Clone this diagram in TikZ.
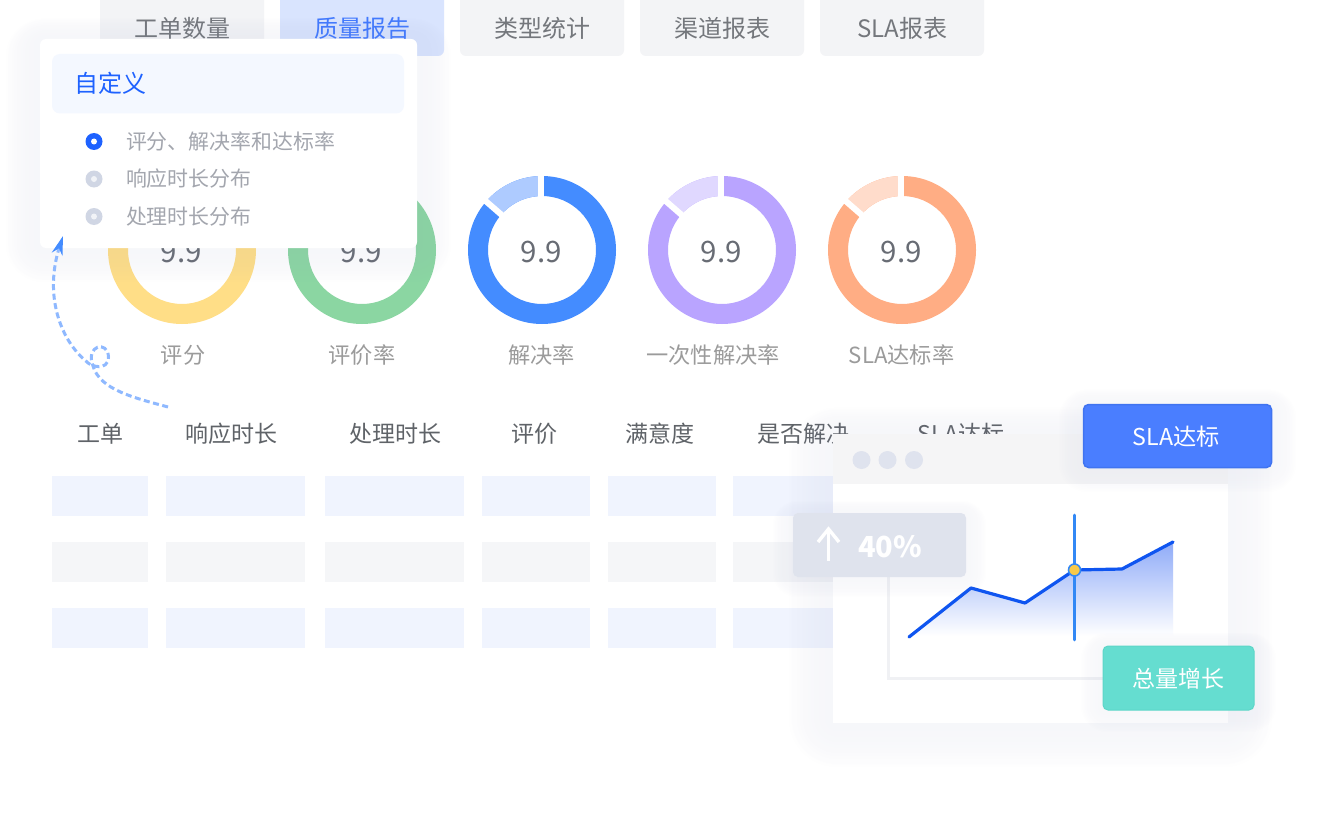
\documentclass[tikz,border=0pt]{standalone}
\usepackage{fontspec}
\setmainfont{Noto Sans CJK SC}
\usetikzlibrary{arrows.meta,calc}
\definecolor{tabgray}{HTML}{F3F4F6}
\definecolor{tabblue}{HTML}{D9E4FE}
\definecolor{tabtext}{HTML}{74777C}
\definecolor{tabactive}{HTML}{4179FF}
\definecolor{blueacc}{HTML}{1E62FF}
\definecolor{paneltint}{HTML}{F4F8FF}
\definecolor{optgray}{HTML}{A3A6AE}
\definecolor{radiogray}{HTML}{D0D6E4}
\definecolor{labelgray}{HTML}{9B9B9B}
\definecolor{valgray}{HTML}{686C74}
\definecolor{headgray}{HTML}{5F6368}
\definecolor{rowblue}{HTML}{F0F4FE}
\definecolor{rowgray}{HTML}{F5F6F8}
\definecolor{winhead}{HTML}{F5F5F6}
\definecolor{windot}{HTML}{DFE3EE}
\definecolor{axisgray}{HTML}{F0F1F4}
\definecolor{shadowtint}{HTML}{808AB8}
\definecolor{slablue}{HTML}{4A7EFF}
\definecolor{slaedge}{HTML}{4074F0}
\definecolor{tealbox}{HTML}{65DDD0}
\definecolor{tealedge}{HTML}{5CD6C8}
\definecolor{upbox}{HTML}{DFE3ED}
\definecolor{lineblue}{HTML}{0F55F0}
\definecolor{crossblue}{HTML}{3288F5}
\definecolor{dotyellow}{HTML}{F8C948}
\definecolor{areablue}{HTML}{8FABF8}
\definecolor{dashblue}{HTML}{8FB9FF}
\definecolor{tipblue}{HTML}{448CFF}
\definecolor{ringY}{HTML}{FFDE87}
\definecolor{ringG}{HTML}{8BD6A2}
\definecolor{ringB}{HTML}{448CFF}
\definecolor{ringP}{HTML}{B9A4FF}
\definecolor{ringO}{HTML}{FFAD84}
\definecolor{softY}{HTML}{FFEFC4}
\definecolor{softG}{HTML}{C5EBD1}
\definecolor{softB}{HTML}{AECBFF}
\definecolor{softP}{HTML}{E0D8FF}
\definecolor{softO}{HTML}{FFDCCB}
\newcommand{\fsz}[1]{\fontsize{#1}{#1}\selectfont}
% x1 y1 x2 y2 spread opacity: layers inside one group, so only one faint composite
\newcommand{\softshadow}[6]{%
  \begin{scope}[transparency group,opacity=#6]
  \foreach \i in {1,...,16}{%
    \pgfmathsetmacro{\spr}{\i/16*#5}%
    \pgfmathsetmacro{\sprtop}{\spr*0.6}%
    \fill[shadowtint,opacity=0.12,rounded corners={(\spr+4)*1pt}]
      ({#1-\spr},{-(#2)+\sprtop}) rectangle ({#3+\spr},{-(#4)-\spr});
  }
  \end{scope}}
\tikzset{
  txt/.style={inner sep=0pt,outer sep=0pt,anchor=center},
  tabtxt/.style={txt,text=tabtext,font=\fsz{24}},
  colhead/.style={txt,text=headgray,font=\fsz{23}},
  ringlabel/.style={txt,text=labelgray,font=\fsz{22.2}},
  ringvalue/.style={txt,text=valgray,font=\fsz{29.5}},
  opt/.style={txt,anchor=west,text=optgray,font=\fsz{20.9}},
  flow/.style={dashblue,line width=3pt,dash pattern=on 6pt off 3.5pt},
}
\begin{document}
\begin{tikzpicture}[x=1pt,y=1pt]
\fill[white] (0,0) rectangle (1330,-832);
\useasboundingbox (0,0) rectangle (1330,-832);
\clip (0,0) rectangle (1330,-832);
% tabs
\foreach \a/\col/\tc/\lab/\nm in {100/tabgray/tabtext/工单数量/tabA,280/tabblue/tabactive/质量报告/tabB,460/tabgray/tabtext/类型统计/tabC,640/tabgray/tabtext/渠道报表/tabD,820/tabgray/tabtext/SLA报表/tabE}{
  \fill[\col,rounded corners=6pt] (\a,10) rectangle ({\a+164},-56);
  \node[tabtxt,text=\tc] (\nm) at ({\a+82},-28) {\lab};
}
% rings
\foreach \cx/\dark/\light/\nm in {182/ringY/softY/rA,362/ringG/softG/rB,542/ringB/softB/rC,722/ringP/softP/rD,902/ringO/softO/rE}{
  \fill[\dark,even odd rule] (\cx,-250) circle[radius=74] (\cx,-250) circle[radius=54];
  \fill[\light] ({\cx+74*cos(90)},{-250+74*sin(90)}) arc[start angle=90,end angle=139,radius=74]
     -- ({\cx+54*cos(139)},{-250+54*sin(139)}) arc[start angle=139,end angle=90,radius=54] -- cycle;
  \draw[white,line width=6.2pt] ({\cx-1.2},-240) -- ({\cx-1.2},-172);
  \draw[white,line width=6pt] ({\cx+50*cos(139)},{-250+50*sin(139)}) -- ({\cx+78*cos(139)},{-250+78*sin(139)});
  \node[ringvalue] (\nm val) at ({\cx-0.7},-252) {9.9};
}
\node[ringlabel] (lA) at (183,-355) {评分};
\node[ringlabel] (lB) at (362,-355) {评价率};
\node[ringlabel] (lC) at (541.5,-355) {解决率};
\node[ringlabel] (lD) at (713,-355) {一次性解决率};
\node[ringlabel] (lE) at (901.5,-355) {SLA达标率};
% table
\node[colhead] (hA) at (100,-434) {工单};
\node[colhead] (hB) at (231,-434) {响应时长};
\node[colhead] (hC) at (395,-434) {处理时长};
\node[colhead] (hD) at (534,-434) {评价};
\node[colhead] (hE) at (660,-434) {满意度};
\node[colhead] (hF) at (803,-434) {是否解决};
\node[colhead] (hG) at (961,-434) {SLA达标};
\foreach \t/\col in {476/rowblue,542/rowgray,608/rowblue}{
  \foreach \l/\r in {52/147.5,166/305,325/464,482/590,608/715.5,733/840}{
    \fill[\col] (\l,-\t) rectangle (\r,{-\t-40});
  }
}
% popup
\softshadow{40}{39}{417}{248}{34}{0.08}
\fill[white,rounded corners=6pt] (40,-39) rectangle (417,-248);
\fill[paneltint,rounded corners=8pt] (52,-54) rectangle (404,-113.5);
\node[txt,text=blueacc,font=\fsz{24}] (custom) at (110,-83.5) {自定义};
\fill[blueacc] (94,-141.5) circle[radius=8.5];
\fill[white] (94,-141.5) circle[radius=3];
\foreach \yy in {179,216.5}{
  \fill[radiogray] (94,-\yy) circle[radius=8.5];
  \fill[white!70!radiogray] (94,-\yy) circle[radius=3];
}
\node[opt] (o1) at (126,-141.5) {评分、解决率和达标率};
\node[opt] (o2) at (126,-178.5) {响应时长分布};
\node[opt] (o3) at (126,-216.5) {处理时长分布};
% dashed arrow
\coordinate (flowstart) at (168,-407);
\coordinate (flowend) at (63,-236);
\draw[flow,-{Stealth[length=19pt,width=11pt,color=tipblue]}] (flowstart)
  .. controls (135,-398) and (100,-390) .. (93,-366)
  .. controls (85,-345) and (108,-340) .. (108.5,-357)
  .. controls (108,-372) and (90,-366) .. (87,-362)
  .. controls (60,-340) and (44,-295) .. (flowend);
% window
\softshadow{833}{434}{1228}{723}{44}{0.08}
\fill[white] (833,-434) rectangle (1228,-723);
\fill[winhead] (833,-434) rectangle (1228,-484);
\foreach \x in {861.5,887.5,914}{\fill[windot] (\x,-460) circle[radius=9];}
\draw[axisgray,line width=3pt] (888,-577) -- (888,-678) -- (1110,-678);
% chart
\begin{scope}
  \clip (909,-637) -- (971,-588) -- (1025,-603) -- (1074.5,-570) -- (1122,-569) -- (1173,-542) -- (1173,-640) -- (909,-640) -- cycle;
  \shade[top color=areablue,bottom color=white] (905,-542) rectangle (1175,-636);
\end{scope}
\draw[crossblue,line width=2.6pt,line cap=round] (1074.5,-515) -- (1074.5,-640);
\draw[lineblue,line width=3.2pt,line cap=round,line join=round] (909,-637) -- (971,-588) -- (1025,-603) -- (1074.5,-570) -- (1122,-569) -- (1173,-542);
\fill[dotyellow,draw=crossblue,line width=1.6pt] (1074.5,-570) circle[radius=6];
% 40% box
\softshadow{793}{513}{966}{577}{20}{0.07}
\fill[upbox,rounded corners=5pt] (793,-513) rectangle (966,-577);
\draw[white,line width=3.4pt] (828.5,-561) -- (828.5,-529);
\draw[white,line width=3.4pt,line join=miter] (818,-542) -- (828.5,-529) -- (839,-542);
\node[txt,text=white,font=\bfseries\fsz{29}] (pct) at (890,-547) {40\%};
% SLA box
\softshadow{1083}{404}{1272}{468}{24}{0.07}
\node[txt,fill=slablue,draw=slaedge,line width=1.5pt,rounded corners=5pt,minimum width=188pt,minimum height=63pt] (sla) at (1177.5,-436) {};
\node[txt,text=white,font=\fsz{23.2}] (slat) at (1176,-436.5) {SLA达标};
% growth box
\softshadow{1103}{646}{1254}{710}{22}{0.07}
\node[txt,fill=tealbox,draw=tealedge,line width=1pt,rounded corners=5pt,minimum width=151pt,minimum height=64pt] (growbox) at (1178.5,-678) {};
\node[txt,text=white,font=\fsz{23}] (growt) at (1178.5,-678.5) {总量增长};
\end{tikzpicture}
\end{document}
